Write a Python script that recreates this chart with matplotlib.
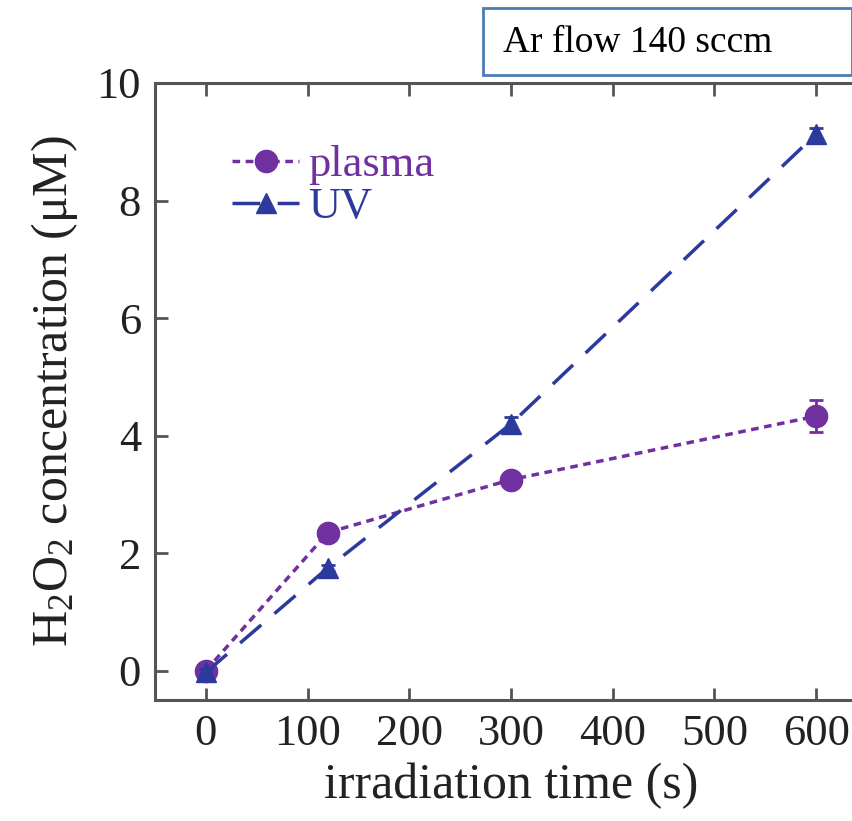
import matplotlib
matplotlib.use("Agg")
import matplotlib.pyplot as plt
from matplotlib.patches import Rectangle

plt.rcParams['font.family'] = ['Liberation Serif', 'DejaVu Serif']
plt.rcParams['mathtext.fontset'] = 'custom'
plt.rcParams['mathtext.rm'] = 'Liberation Serif'
plt.rcParams['mathtext.it'] = 'Liberation Serif:italic'

# data
time_s = [0, 120, 300, 600]
plasma = [0.0, 2.35, 3.25, 4.33]
plasma_err = [0.1, 0.1, 0.1, 0.27]
uv = [-0.03, 1.75, 4.2, 9.13]
uv_err = [0.05, 0.05, 0.12, 0.1]
xticks = [0, 100, 200, 300, 400, 500, 600]
yticks = [0, 2, 4, 6, 8, 10]

plasma_color = '#7030a0'
uv_color = '#2b3a9c'
spine_color = '#555555'

fig = plt.figure(figsize=(8.53, 8.21), dpi=100)
W, H = 853, 821
left, right, top, bottom = 155, 867, 83, 700
ax = fig.add_axes([left / W, 1 - bottom / H, (right - left) / W, (bottom - top) / H])

ax.errorbar(time_s, plasma, yerr=plasma_err, fmt='none', ecolor=plasma_color,
            capsize=5, capthick=2, elinewidth=2, zorder=3)
ax.errorbar(time_s, uv, yerr=uv_err, fmt='none', ecolor=uv_color,
            capsize=5, capthick=2, elinewidth=2, zorder=4)
ax.plot(time_s, plasma, color=plasma_color, ls=(0, (2.2, 1.6)), lw=2.5,
        marker='o', ms=16, label='plasma', zorder=3)
ax.plot(time_s, uv, color=uv_color, ls=(0, (8, 5)), lw=2.5,
        marker='^', ms=15, label='UV', zorder=4)

ax.set_xlim(-50, 650)
ax.set_ylim(-0.5, 10)
ax.set_xticks(xticks)
ax.set_yticks(yticks)
ax.tick_params(direction='in', length=9, width=2, colors=spine_color, labelcolor='#222222',
               labelsize=32, top=True, right=True, pad=10)
for s in ax.spines.values():
    s.set_color(spine_color)
    s.set_linewidth(2.2)

ax.set_xlabel('irradiation time (s)', fontsize=36, color='#222222', labelpad=6)
ax.set_ylabel('H$_2$O$_2$ concentration (μM)', fontsize=36, color='#222222', labelpad=12)

leg = ax.legend(loc='upper left', bbox_to_anchor=(0.065, 0.95), frameon=False, fontsize=32,
                handlelength=1.5, handletextpad=0.2, labelspacing=0.05, borderpad=0.2)
for txt, c in zip(leg.get_texts(), [plasma_color, uv_color]):
    txt.set_color(c)

# annotation box
bx0, bx1, by0, by1 = 483, 852, 8, 75
fig.patches.append(Rectangle((bx0 / W, 1 - by1 / H), (bx1 - bx0) / W, (by1 - by0) / H,
                             transform=fig.transFigure, facecolor='white',
                             edgecolor='#4a7cb5', linewidth=2))
fig.text(503 / W, 1 - 43 / H, 'Ar flow 140 sccm', fontsize=27, va='center', ha='left', color='black')

fig.savefig('out.png', dpi=100)
